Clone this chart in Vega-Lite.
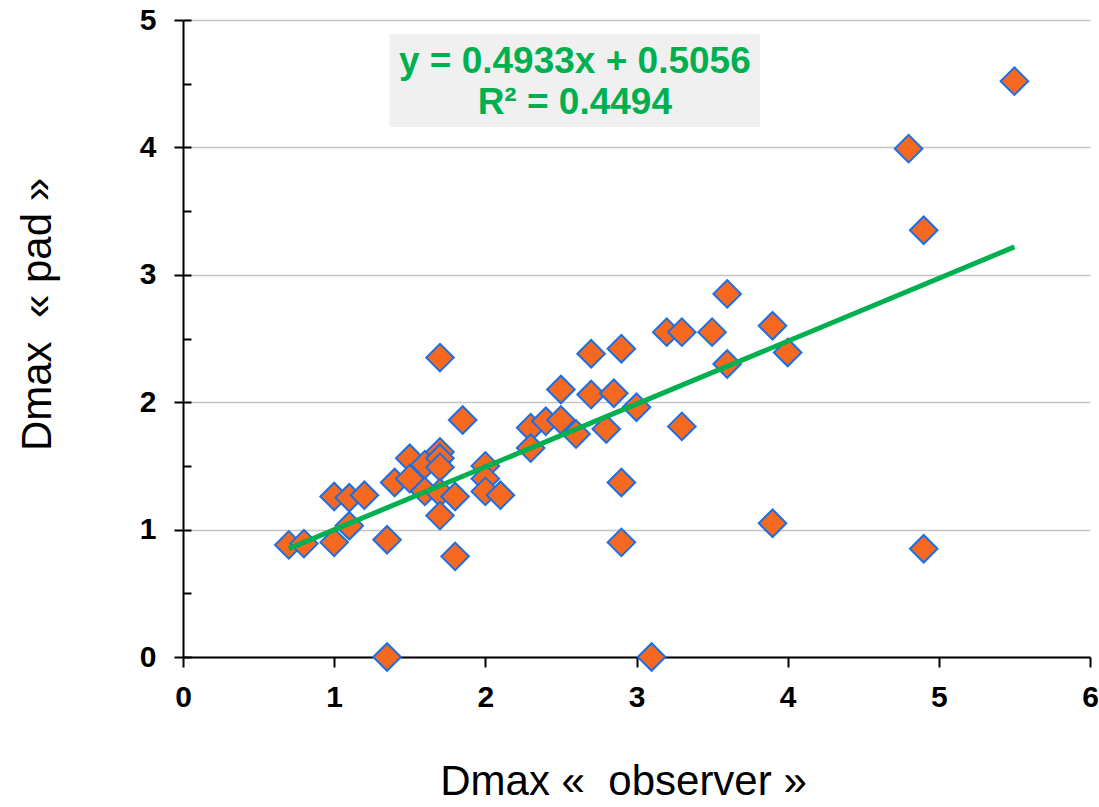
{
  "$schema": "https://vega.github.io/schema/vega-lite/v6.json",
  "width": 907,
  "height": 637,
  "autosize": {"type": "none"},
  "padding": {"left": 183, "top": 20, "right": 9, "bottom": 150},
  "background": "white",
  "config": {
    "view": {"stroke": null},
    "font": "Liberation Sans",
    "axis": {
      "domainColor": "#000000",
      "domainWidth": 2,
      "tickColor": "#000000",
      "tickWidth": 2,
      "labelFlush": false,
      "labelFont": "Liberation Sans",
      "labelFontWeight": "bold",
      "labelFontSize": 30,
      "labelColor": "#000000",
      "titleFont": "Liberation Sans",
      "titleFontWeight": "normal",
      "titleFontSize": 42,
      "titleColor": "#000000"
    }
  },
  "resolve": {"axis": {"y": "independent"}},
  "datasets": {
    "points": [
      {"obs": 0.7, "pad": 0.88}, {"obs": 0.8, "pad": 0.89}, {"obs": 1.0, "pad": 1.26}, {"obs": 1.0, "pad": 0.9},
      {"obs": 1.1, "pad": 1.25}, {"obs": 1.1, "pad": 1.03}, {"obs": 1.2, "pad": 1.27}, {"obs": 1.35, "pad": 0.92},
      {"obs": 1.35, "pad": 0.0}, {"obs": 1.4, "pad": 1.37}, {"obs": 1.5, "pad": 1.56}, {"obs": 1.5, "pad": 1.4},
      {"obs": 1.6, "pad": 1.51}, {"obs": 1.6, "pad": 1.3}, {"obs": 1.7, "pad": 2.35}, {"obs": 1.7, "pad": 1.61},
      {"obs": 1.7, "pad": 1.56}, {"obs": 1.7, "pad": 1.49}, {"obs": 1.7, "pad": 1.29}, {"obs": 1.7, "pad": 1.11},
      {"obs": 1.8, "pad": 0.79}, {"obs": 1.8, "pad": 1.26}, {"obs": 1.85, "pad": 1.86}, {"obs": 2.0, "pad": 1.5},
      {"obs": 2.0, "pad": 1.4}, {"obs": 2.0, "pad": 1.3}, {"obs": 2.1, "pad": 1.27}, {"obs": 2.3, "pad": 1.8},
      {"obs": 2.3, "pad": 1.64}, {"obs": 2.4, "pad": 1.85}, {"obs": 2.5, "pad": 2.1}, {"obs": 2.5, "pad": 1.86},
      {"obs": 2.6, "pad": 1.75}, {"obs": 2.7, "pad": 2.38}, {"obs": 2.7, "pad": 2.06}, {"obs": 2.8, "pad": 1.79},
      {"obs": 2.85, "pad": 2.07}, {"obs": 2.9, "pad": 2.42}, {"obs": 2.9, "pad": 1.37}, {"obs": 2.9, "pad": 0.9},
      {"obs": 3.0, "pad": 1.96}, {"obs": 3.1, "pad": 0.0}, {"obs": 3.2, "pad": 2.55}, {"obs": 3.3, "pad": 2.55},
      {"obs": 3.3, "pad": 1.81}, {"obs": 3.5, "pad": 2.55}, {"obs": 3.6, "pad": 2.85}, {"obs": 3.6, "pad": 2.3},
      {"obs": 3.9, "pad": 2.6}, {"obs": 3.9, "pad": 1.05}, {"obs": 4.0, "pad": 2.39}, {"obs": 4.8, "pad": 3.99},
      {"obs": 4.9, "pad": 3.35}, {"obs": 4.9, "pad": 0.85}, {"obs": 5.5, "pad": 4.52}
    ],
    "fit": [
      {"obs": 0.7, "pad": 0.851}, {"obs": 5.5, "pad": 3.219}
    ],
    "box": [
      {"obs": 1.366, "obs2": 3.818, "pad": 4.16, "pad2": 4.89}
    ],
    "labels": [
      {"obs": 2.592, "pad": 4.67, "text": "y = 0.4933x + 0.5056"},
      {"obs": 2.592, "pad": 4.35, "text": "R² = 0.4494"}
    ]
  },
  "layer": [
    {
      "data": {"name": "box"},
      "mark": {"type": "rect", "fill": "#f0f0f0"},
      "encoding": {
        "x": {
          "field": "obs", "type": "quantitative",
          "scale": {"domain": [0, 6], "nice": false, "zero": false},
          "axis": {
            "title": "Dmax «\u00a0 observer »",
            "values": [0, 1, 2, 3, 4, 5, 6],
            "format": "d",
            "grid": false,
            "labelFlush": false,
            "tickSize": 10,
            "labelPadding": 15,
            "titleX": 440,
            "titleY": 124,
            "titleBaseline": "middle",
            "titleAlign": "center"
          }
        },
        "x2": {"field": "obs2"},
        "y": {
          "field": "pad", "type": "quantitative",
          "scale": {"domain": [0, 5], "nice": false, "zero": false},
          "axis": {
            "title": "Dmax\u00a0 « pad »",
            "values": [0, 1, 2, 3, 4, 5],
            "format": "d",
            "grid": true,
            "labelFlush": false,
            "gridColor": "#c4c4c4",
            "gridWidth": 1.5,
            "tickSize": 9,
            "labelPadding": 18,
            "titleX": -146,
            "titleY": 294,
            "titleAngle": -90,
            "titleAlign": "center",
            "titleBaseline": "middle"
          }
        },
        "y2": {"field": "pad2"}
      }
    },
    {
      "data": {"name": "points"},
      "mark": {"type": "point", "shape": "diamond", "filled": true, "size": 760, "fill": "#f4691f", "stroke": "#1a6fe8", "strokeWidth": 2, "opacity": 1},
      "encoding": {
        "x": {"field": "obs", "type": "quantitative"},
        "y": {
          "field": "pad", "type": "quantitative",
          "axis": {
            "orient": "right",
            "offset": -907,
            "values": [0, 0.5, 1, 1.5, 2, 2.5, 3, 3.5, 4, 4.5, 5],
            "labels": false,
            "domain": false,
            "grid": false,
            "title": null,
            "tickSize": 8
          }
        }
      }
    },
    {
      "data": {"name": "fit"},
      "mark": {"type": "line", "color": "#00b050", "strokeWidth": 5},
      "encoding": {
        "x": {"field": "obs", "type": "quantitative"},
        "y": {"field": "pad", "type": "quantitative", "axis": null}
      }
    },
    {
      "data": {"name": "labels"},
      "mark": {"type": "text", "font": "Liberation Sans", "fontWeight": "bold", "fontSize": 37, "color": "#00b050", "align": "center", "baseline": "middle"},
      "encoding": {
        "x": {"field": "obs", "type": "quantitative"},
        "y": {"field": "pad", "type": "quantitative", "axis": null},
        "text": {"field": "text"}
      }
    }
  ]
}
